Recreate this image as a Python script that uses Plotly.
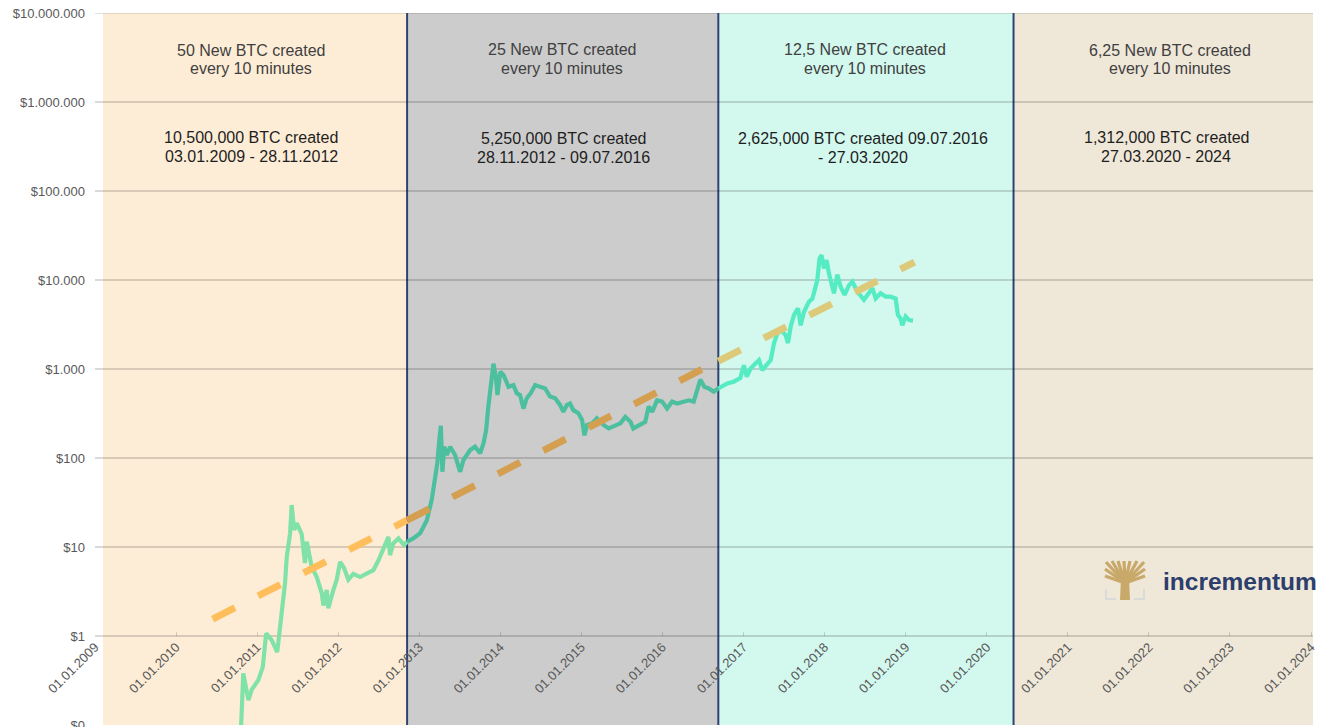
import plotly.graph_objects as go

# ---------------- data ----------------
# Bitcoin price (USD), split by halving era
era1_dates = ["2010-10-21", "2010-10-31", "2010-11-23", "2010-12-08", "2011-01-07", "2011-01-27",
              "2011-02-11", "2011-03-08", "2011-04-02", "2011-04-22", "2011-05-07", "2011-05-15",
              "2011-05-30", "2011-06-06", "2011-06-17", "2011-06-29", "2011-07-21", "2011-08-05",
              "2011-08-13", "2011-09-04", "2011-09-27", "2011-10-20", "2011-10-27", "2011-11-11",
              "2011-11-18", "2011-12-11", "2011-12-26", "2012-01-10", "2012-01-28", "2012-02-16",
              "2012-03-10", "2012-04-09", "2012-05-09", "2012-06-08", "2012-07-01", "2012-07-23",
              "2012-08-15", "2012-08-22", "2012-09-06", "2012-09-29", "2012-10-24", "2012-11-07"]
era1_prices = [0.095, 0.38, 0.19, 0.25, 0.32, 0.45,
               1.07, 0.9, 0.66, 1.8, 3.9, 7.8,
               14.3, 29.6, 15.5, 18.5, 14, 6.6,
               11.5, 6, 4.6, 3, 2.2, 3.3,
               2.05, 3.3, 4.3, 6.8, 5.8, 4.3,
               5.0, 4.6, 5.0, 5.5, 7.1, 9.3,
               13, 8.1, 11, 12.5, 10.5, 11.5]

era2_dates = ["2012-11-07", "2012-12-05", "2013-01-05", "2013-02-04", "2013-02-26", "2013-03-13",
              "2013-03-23", "2013-04-01", "2013-04-08", "2013-04-15", "2013-04-23", "2013-05-05",
              "2013-05-20", "2013-06-11", "2013-07-04", "2013-07-19", "2013-08-18", "2013-09-09",
              "2013-10-02", "2013-10-17", "2013-10-29", "2013-11-08", "2013-11-19", "2013-12-01",
              "2013-12-12", "2013-12-19", "2014-01-01", "2014-01-16", "2014-02-07", "2014-03-01",
              "2014-03-16", "2014-03-31", "2014-04-15", "2014-04-30", "2014-05-18", "2014-06-07",
              "2014-06-29", "2014-07-22", "2014-08-13", "2014-09-05", "2014-09-27", "2014-10-12",
              "2014-10-28", "2014-11-11", "2014-11-26", "2014-12-19", "2015-01-04", "2015-01-15",
              "2015-01-27", "2015-02-18", "2015-03-12", "2015-04-11", "2015-05-04", "2015-05-27",
              "2015-06-26", "2015-07-18", "2015-08-10", "2015-08-23", "2015-09-16", "2015-10-16",
              "2015-10-31", "2015-11-16", "2015-12-08", "2015-12-31", "2016-01-22", "2016-02-14",
              "2016-03-07", "2016-04-06", "2016-04-29", "2016-05-21", "2016-06-05", "2016-06-20",
              "2016-07-08", "2016-07-28", "2016-08-19", "2016-09-09"]
era2_prices = [11.5, 12.5, 14.3, 20, 34, 56,
               87, 160, 230, 70, 134, 108,
               134, 108, 70, 95, 123, 134,
               113, 146, 205, 380, 690, 1150,
               815, 510, 930, 855, 630, 660,
               535, 510, 360, 470, 535, 660,
               630, 605, 490, 470, 395, 330,
               395, 410, 345, 318, 268, 180,
               235, 245, 280, 235, 215, 225,
               245, 290, 255, 215, 235, 255,
               380, 330, 445, 430, 360, 430,
               410, 430, 445, 430, 580, 760,
               630, 605, 555, 605]

era3_dates = ["2016-09-09", "2016-10-19", "2016-11-17", "2016-12-17", "2017-01-02", "2017-01-15",
              "2017-02-02", "2017-02-24", "2017-03-11", "2017-03-26", "2017-04-18", "2017-05-03",
              "2017-05-18", "2017-06-02", "2017-06-17", "2017-07-09", "2017-07-20", "2017-08-01",
              "2017-08-16", "2017-09-03", "2017-09-15", "2017-09-30", "2017-10-22", "2017-11-07",
              "2017-11-17", "2017-11-29", "2017-12-09", "2017-12-18", "2017-12-29", "2018-01-10",
              "2018-01-20", "2018-02-02", "2018-02-12", "2018-02-27", "2018-03-14", "2018-04-01",
              "2018-04-20", "2018-05-06", "2018-05-28", "2018-06-27", "2018-07-20", "2018-08-04",
              "2018-08-19", "2018-09-10", "2018-10-03", "2018-10-25", "2018-11-17", "2018-11-27",
              "2018-12-09", "2018-12-17", "2019-01-01", "2019-01-16", "2019-02-03"]
era3_prices = [605, 690, 720, 790, 1100, 820,
               1020, 1150, 1260, 970, 1150, 1260,
               1960, 2500, 2750, 2400, 1960, 3000,
               4050, 4800, 3100, 4400, 5700, 6200,
               7700, 10000, 17500, 19000, 13500, 16700,
               12000, 8400, 7100, 11500, 8400, 6800,
               8700, 9600, 7400, 6000, 7100, 8100,
               6200, 7100, 6500, 6500, 6200, 4050,
               3700, 3100, 3900, 3550, 3500]

# log-linear trend line, read at its ends and at the era boundaries
trend_dates = ["2010-06-15", "2012-11-07", "2016-09-09", "2019-02-10"]
trend_values = [1.55, 20, 1230, 15900]

# halving eras (shaded background bands)
era_bounds = ["2009-02-06", "2012-11-07", "2016-09-09", "2020-05-01", "2024-01-10"]
era_reward_text = [["50 New BTC created", "every 10 minutes"],
                   ["25 New BTC created", "every 10 minutes"],
                   ["12,5 New BTC created", "every 10 minutes"],
                   ["6,25 New BTC created", "every 10 minutes"]]
era_supply_text = [["10,500,000 BTC created", "03.01.2009 - 28.11.2012"],
                   ["5,250,000 BTC created", "28.11.2012 - 09.07.2016"],
                   ["2,625,000 BTC created 09.07.2016", "- 27.03.2020"],
                   ["1,312,000 BTC created", "27.03.2020 - 2024"]]

y_tickvals = [0.1, 1, 10, 100, 1000, 10000, 100000, 1000000, 10000000]
y_ticktext = ["$0", "$1", "$10", "$100", "$1.000", "$10.000", "$100.000",
              "$1.000.000", "$10.000.000"]

# ---------------- styling ----------------
W, H = 1332, 727
OFF = 8  # page body margin of the html document
# plot area in page pixels: x 95..1313, y 13..725
ML, MT = 95 - OFF, 13 - OFF
MR, MB = W - (1313 - OFF), H - (725 - OFF)
PW, PH = W - ML - MR, H - MT - MB
FONT = "Liberation Sans, Arial, sans-serif"

band_colors = ["#FEEDD6", "#CCCCCC", "#D3F8EE", "#EFE7D8"]
price_colors = ["#80E2A8", "#4CBF9F", "#55EBC3"]
trend_colors = ["#FFBE5C", "#D49F50", "#DCC97A"]
divider_color = "#2E4374"
grid_color = "rgba(0,0,0,0.15)"


def px(x):
    """page pixel x -> paper fraction"""
    return (x - OFF - ML) / PW


def py(y):
    """page pixel y -> paper fraction"""
    return (H - MB - (y - OFF)) / PH


fig = go.Figure()

# price line by era
for d, p, c in zip([era1_dates, era2_dates, era3_dates],
                   [era1_prices, era2_prices, era3_prices], price_colors):
    fig.add_trace(go.Scatter(x=d, y=p, mode="lines",
                             line=dict(color=c, width=4.2),
                             hoverinfo="skip", showlegend=False))

# dashed trend segments
for i, c in enumerate(trend_colors):
    fig.add_trace(go.Scatter(x=trend_dates[i:i + 2], y=trend_values[i:i + 2], mode="lines",
                             line=dict(color=c, width=7, dash="25px,26px"),
                             hoverinfo="skip", showlegend=False))

shapes = []
for i, c in enumerate(band_colors):
    shapes.append(dict(type="rect", xref="x", yref="paper",
                       x0=era_bounds[i], x1=era_bounds[i + 1], y0=0, y1=1,
                       fillcolor=c, line=dict(width=0), layer="below"))
# top grid line (at the very edge of the plot area)
shapes.append(dict(type="line", xref="paper", yref="y", x0=0, x1=1,
                   y0=y_tickvals[-1], y1=y_tickvals[-1],
                   line=dict(color=grid_color, width=1.5), layer="between"))
for b in era_bounds[1:4]:
    shapes.append(dict(type="line", xref="x", yref="paper", x0=b, x1=b, y0=0, y1=1,
                       line=dict(color=divider_color, width=2), layer="between"))


# logo icon (tree + brackets)
def path(points):
    return "M " + " L ".join(f"{px(a):.5f},{py(b):.5f}" for a, b in points)


gold = "#C8A96A"
trunk_top = (1125, 583)
for tx, ty in [(1106, 562), (1112, 561), (1118, 561), (1124, 561), (1130, 561),
               (1137, 561), (1144, 562), (1105, 569), (1145, 569), (1105, 576), (1145, 576)]:
    shapes.append(dict(type="path", xref="paper", yref="paper",
                       path=path([trunk_top, (tx, ty)]),
                       line=dict(color=gold, width=3.2), layer="above"))
shapes.append(dict(type="path", xref="paper", yref="paper",
                   path=path([(1120, 600), (1121, 578), (1129, 578), (1130, 600)]) + " Z",
                   fillcolor=gold, line=dict(width=0), layer="above"))
shapes.append(dict(type="path", xref="paper", yref="paper",
                   path=path([(1106, 589), (1106, 599), (1116, 599)]),
                   line=dict(color="#DADADA", width=2), layer="above"))
shapes.append(dict(type="path", xref="paper", yref="paper",
                   path=path([(1144, 589), (1144, 599), (1134, 599)]),
                   line=dict(color="#DADADA", width=2), layer="above"))

annotations = []
reward_x = [251, 562, 865, 1170]
supply_x = [251, 563, 863, 1166]
reward_y = [(50, 68), (49, 68), (49, 68), (51, 69)]
supply_y = [(137.5, 156), (138, 157), (138, 157), (137.5, 156)]
for i in range(4):
    for line_txt, yy in zip(era_reward_text[i], reward_y[i]):
        annotations.append(dict(x=px(reward_x[i]), y=py(yy), xref="paper", yref="paper",
                                text=line_txt, showarrow=False, xanchor="center",
                                yanchor="middle",
                                font=dict(family=FONT, size=16, color="#404040")))
    for line_txt, yy in zip(era_supply_text[i], supply_y[i]):
        annotations.append(dict(x=px(supply_x[i]), y=py(yy), xref="paper", yref="paper",
                                text=line_txt, showarrow=False, xanchor="center",
                                yanchor="middle",
                                font=dict(family=FONT, size=16, color="#1E1E1E")))
annotations.append(dict(x=px(1240), y=py(581), xref="paper", yref="paper",
                        text="<b>incrementum</b>", showarrow=False, xanchor="center",
                        yanchor="middle",
                        font=dict(family=FONT, size=24.5, color="#2C3E6B")))

fig.update_layout(
    width=W, height=H,
    margin=dict(l=ML, r=MR, t=MT, b=MB, autoexpand=False),
    paper_bgcolor="white", plot_bgcolor="white",
    showlegend=False,
    shapes=shapes,
    annotations=annotations,
    xaxis=dict(type="date", range=["2009-01-01", "2024-01-10"],
               tickformat="%d.%m.%Y", dtick="M12", tick0="2009-01-01",
               tickangle=-45, showgrid=False, zeroline=False, showline=False,
               anchor="free", position=py(636), automargin=False,
               ticks="inside", ticklen=4, tickwidth=1, tickcolor="rgba(0,0,0,0.15)",
               tickfont=dict(family=FONT, size=13, color="#595959")),
    yaxis=dict(type="log", range=[-1.0002, 7.0008], tickvals=y_tickvals, ticktext=y_ticktext,
               showgrid=True, gridcolor=grid_color, gridwidth=1.5,
               zeroline=False, showline=False, ticks="", ticklabelstandoff=9,
               automargin=False, ticklabeloverflow="allow",
               tickfont=dict(family=FONT, size=13, color="#595959")),
)

fig.write_html("out.html")
